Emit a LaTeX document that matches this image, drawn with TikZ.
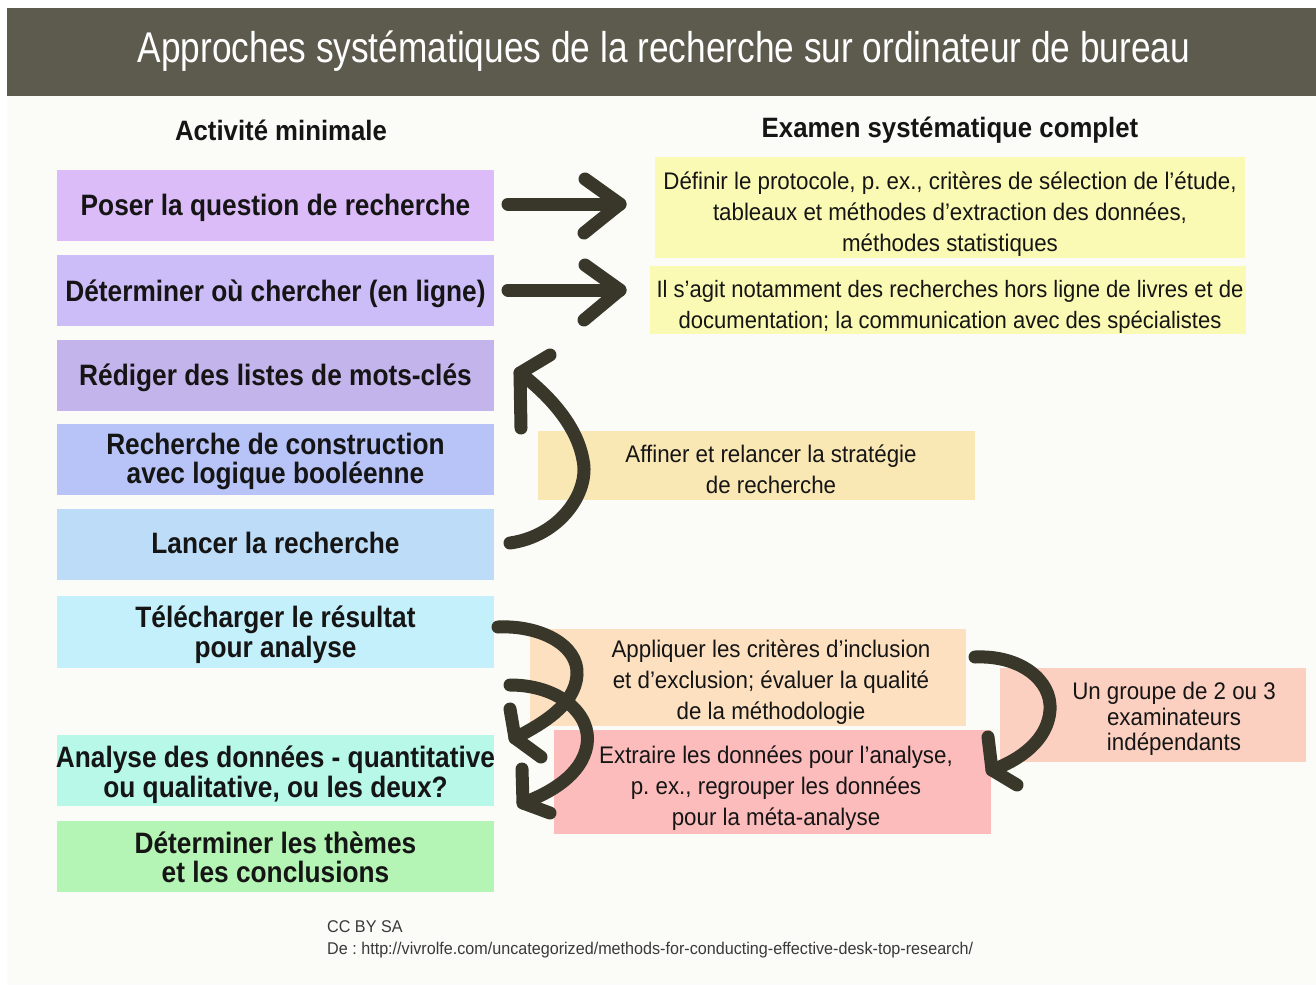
\documentclass[tikz,border=0pt]{standalone}
\usepackage{fontspec}
\setmainfont{Liberation Sans}
\newfontfamily\titlefont{Liberation Sans}[FakeStretch=0.82]
\newfontfamily\boxfont{Liberation Sans}[FakeStretch=0.89]
\newfontfamily\headfont{Liberation Sans}[FakeStretch=0.92]
\newfontfamily\notefont{Liberation Sans}[FakeStretch=0.93]
\newfontfamily\credfont{Liberation Sans}[FakeStretch=0.95]
\definecolor{barc}{HTML}{5C5B4E}
\definecolor{bgc}{HTML}{FBFCF8}
\definecolor{txt}{HTML}{151515}
\definecolor{arrowc}{HTML}{38372A}
\definecolor{cA}{HTML}{DCBCF8}
\definecolor{cB}{HTML}{CCBCF8}
\definecolor{cC}{HTML}{C4B4EC}
\definecolor{cD}{HTML}{B8C4F8}
\definecolor{cE}{HTML}{BCDCF8}
\definecolor{cF}{HTML}{C4F0FC}
\definecolor{cG}{HTML}{B8F8E8}
\definecolor{cH}{HTML}{B4F4B4}
\definecolor{yel}{HTML}{FAFAB4}
\definecolor{ochre}{HTML}{FAE8B4}
\definecolor{peach}{HTML}{FCE0C0}
\definecolor{pinkc}{HTML}{FCBCBC}
\definecolor{salmon}{HTML}{FCD0C0}
\definecolor{credc}{HTML}{3A3A3A}
\tikzset{
  lbg/.style={rectangle, minimum width=437pt, minimum height=71pt, inner sep=0pt},
  ltxt/.style={inner sep=0pt, align=center, text=txt, font=\boxfont\bfseries\fontsize{29.5}{29.5}\selectfont},
  nbg/.style={rectangle, inner sep=0pt},
  ntxt/.style={inner sep=0pt, align=center, text=txt, font=\notefont\fontsize{24}{31}\selectfont},
  headtxt/.style={inner sep=0pt, text=txt, font=\headfont\bfseries\fontsize{28}{28}\selectfont},
  credtxt/.style={inner sep=0pt, anchor=west, text=credc, font=\credfont\fontsize{17}{17}\selectfont},
  arr/.style={draw=arrowc, line width=13pt, line cap=round, line join=round}
}
\begin{document}
\begin{tikzpicture}[x=1pt, y=-1pt]
\useasboundingbox (0,0) rectangle (1316,985);
\fill[white] (0,0) rectangle (1316,985);
\fill[bgc] (7,8) rectangle (1316,985);
% title bar
\fill[barc] (7,8) rectangle (1316,96);
\node[inner sep=0pt, text=white, font=\titlefont\fontsize{43}{43}\selectfont] (title) at (664,51)
  {Approches systématiques de la recherche sur ordinateur de bureau};
% headers
\node[headtxt] (hleft) at (281,130) {Activité minimale};
\node[headtxt] (hright) at (950,130) {Examen systématique complet};
% left column
\node[lbg, fill=cA] (p1box) at (275.5,205.5) {};
\node[ltxt] (p1) at (275.5,207.5) {Poser la question de recherche};
\node[lbg, fill=cB] (p2box) at (275.5,290.5) {};
\node[ltxt] (p2) at (275.5,293.5) {Déterminer où chercher (en ligne)};
\node[lbg, fill=cC] (p3box) at (275.5,375.5) {};
\node[ltxt] (p3) at (275.5,377.5) {Rédiger des listes de mots-clés};
\node[lbg, fill=cD] (p4box) at (275.5,459.5) {};
\node[ltxt] (p4) at (275.5,461.5) {Recherche de construction\\avec logique booléenne};
\node[lbg, fill=cE] (p5box) at (275.5,544.5) {};
\node[ltxt] (p5) at (275.5,542.5) {Lancer la recherche};
\node[lbg, fill=cF, minimum height=72pt] (p6box) at (275.5,632) {};
\node[ltxt] (p6) at (275.5,634.5) {Télécharger le résultat\\pour analyse};
\node[lbg, fill=cG] (p7box) at (275.5,770.5) {};
\node[ltxt] (p7) at (275.5,774.5) {Analyse des données - quantitative\\ou qualitative, ou les deux?};
\node[lbg, fill=cH] (p8box) at (275.5,856.5) {};
\node[ltxt] (p8) at (275.5,857.5) {Déterminer les thèmes\\et les conclusions};
% right column
\node[nbg, fill=yel, minimum width=590pt, minimum height=101pt] (n1box) at (950,207.5) {};
\node[ntxt] (n1) at (950,214)
  {Définir le protocole, p.\ ex., critères de sélection de l’étude,\\tableaux et méthodes d’extraction des données,\\méthodes statistiques};
\node[nbg, fill=yel, minimum width=596pt, minimum height=68pt] (n2box) at (948,300) {};
\node[ntxt, font=\notefont\fontsize{23.7}{31}\selectfont] (n2) at (950,306.5)
  {Il s’agit notamment des recherches hors ligne de livres et de\\documentation; la communication avec des spécialistes};
\node[nbg, fill=ochre, minimum width=437pt, minimum height=69pt] (n3box) at (756.5,465.5) {};
\node[ntxt] (n3) at (771,469.5) {Affiner et relancer la stratégie\\de recherche};
\node[nbg, fill=peach, minimum width=436pt, minimum height=97pt] (n4box) at (748,677.5) {};
\node[ntxt] (n4) at (771,682.5)
  {Appliquer les critères d’inclusion\\et d’exclusion; évaluer la qualité\\de la méthodologie};
\node[nbg, fill=pinkc, minimum width=437pt, minimum height=104pt] (n5box) at (772.5,782) {};
\node[ntxt] (n5) at (776,788)
  {Extraire les données pour l’analyse,\\p.\ ex., regrouper les données\\pour la méta-analyse};
\node[nbg, fill=salmon, minimum width=306pt, minimum height=94pt] (n6box) at (1153,715) {};
\node[ntxt, font=\notefont\fontsize{24}{25.5}\selectfont] (n6) at (1174,719)
  {Un groupe de 2 ou 3\\examinateurs\\indépendants};
% credits
\node[credtxt] (cc) at (327,927) {CC BY SA};
\node[credtxt] (src) at (327,950) {De :\ http://vivrolfe.com/uncategorized/methods-for-conducting-effective-desk-top-research/};
% straight arrows
\coordinate (a1s) at (508,204);
\coordinate (a1t) at (620,204);
\draw[arr] (a1s) -- (a1t);
\draw[arr] (585,179) -- (a1t) -- (584,233);
\coordinate (a2s) at (508,290);
\coordinate (a2t) at (620,290);
\draw[arr] (a2s) -- (a2t);
\draw[arr] (585,265) -- (a2t) -- (584,320);
% loop back arrow
\coordinate (a3s) at (510,543);
\coordinate (a3t) at (520,373);
\draw[arr] (a3s) .. controls (560,536) and (590,492) .. (583,460) .. controls (577,426) and (550,396) .. (a3t);
\draw[arr] (550,355) -- (a3t) -- (521,428);
% curved arrows bottom
\coordinate (a4s) at (498,627);
\coordinate (a4t) at (515,738);
\draw[arr] (a4s) .. controls (540,625) and (579,645) .. (577,675) .. controls (575,705) and (542,724) .. (a4t);
\draw[arr] (510,709) -- (a4t) -- (541,757);
\coordinate (a5s) at (510,685);
\coordinate (a5t) at (523,803);
\draw[arr] (a5s) .. controls (560,685) and (592,715) .. (587,745) .. controls (582,775) and (550,793) .. (a5t);
\draw[arr] (522,769) -- (a5t) -- (550,813);
\coordinate (a6s) at (975,657);
\coordinate (a6t) at (992,770);
\draw[arr] (a6s) .. controls (1020,655) and (1052,680) .. (1050,710) .. controls (1048,740) and (1020,760) .. (a6t);
\draw[arr] (988,737) -- (a6t) -- (1017,785);
\end{tikzpicture}
\end{document}
